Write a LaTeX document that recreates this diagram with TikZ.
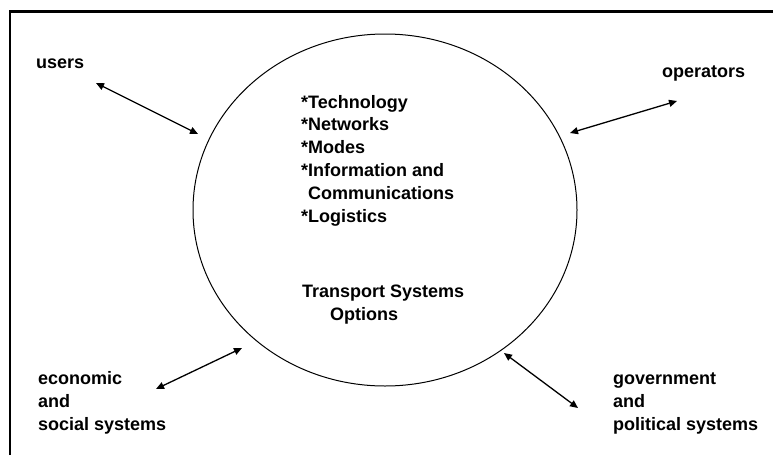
\documentclass[tikz,border=0pt]{standalone}
\usepackage{fontspec}
\setmainfont{Liberation Sans}
\usetikzlibrary{arrows.meta,shapes.geometric}

% multi-line labels are placed by the baseline of their last line
\tikzset{
  label/.style={font=\bfseries\fontsize{18}{22.8}\selectfont, inner sep=0pt,
                anchor=base west, align=left},
  link/.style={line width=1.3pt, {Triangle[length=8pt,width=7pt]}-{Triangle[length=8pt,width=7pt]}},
  frame/.style={line width=2.5pt},
  system/.style={draw, ellipse, line width=1pt, minimum width=384pt, minimum height=352pt, inner sep=0pt}
}

\begin{document}
\begin{tikzpicture}[x=1pt,y=-1pt]
  \useasboundingbox (0,0) rectangle (773,455);

  % open frame: left and top edges
  \draw[frame] (10,455) -- (10,11.5) -- (773,11.5);

  % central system circle
  \node[system] (sys) at (385,210) {};

  % contents of the circle
  \node[label] (list) at (301,222)
    {*Technology\\*Networks\\*Modes\\*Information and\\\phantom{*}Communications\\*Logistics};
  \node[label] (opts) at (302,320) {Transport Systems\\\hspace{28pt}Options};

  % surrounding actors
  \node[label] (users) at (36,68) {users};
  \node[label] (oper) at (662,77) {operators};
  \node[label] (econ) at (38,430) {economic\\and\\social systems};
  \node[label] (gov) at (613,430) {government\\and\\political systems};

  % arrow end points
  \coordinate (u1) at (96,83);   \coordinate (u2) at (198,134);
  \coordinate (o1) at (570,133); \coordinate (o2) at (677,101);
  \coordinate (e1) at (156,389); \coordinate (e2) at (242,348);
  \coordinate (g1) at (504,353); \coordinate (g2) at (578,408);

  \draw[link] (u1) -- (u2);
  \draw[link] (o1) -- (o2);
  \draw[link] (e1) -- (e2);
  \draw[link] (g1) -- (g2);
\end{tikzpicture}
\end{document}
